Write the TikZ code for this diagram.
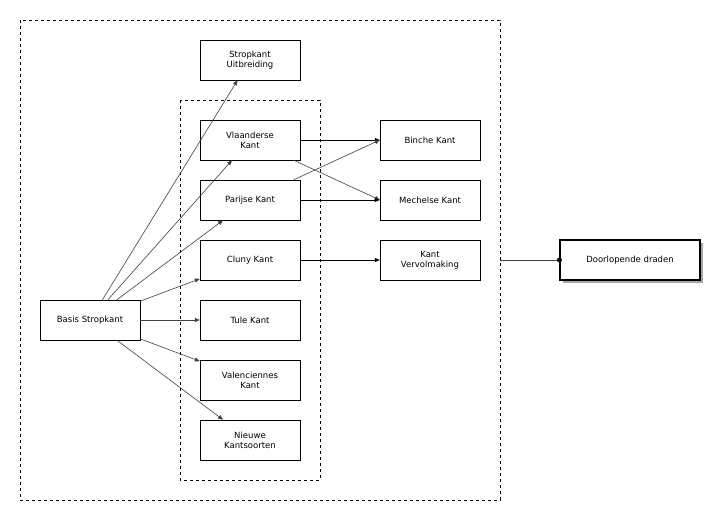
\documentclass[tikz,border=0pt]{standalone}
\usepackage{fontspec}
\setmainfont{DejaVu Sans}
\usepackage{tikz}
\usetikzlibrary{arrows.meta, positioning, shadows}

\begin{document}
\begin{tikzpicture}[
    x=1pt, y=-1pt,
    kant/.style={draw, minimum width=100pt, minimum height=40pt, align=center, font=\fontsize{8.5}{10}\selectfont},
    arrow/.style={-{Triangle[length=5pt,width=4pt]}, semithick},
    group/.style={draw, dashed, semithick}
]
    \useasboundingbox (0,0) rectangle (708,505);

    % Groups
    \draw[group] (20,20) rectangle (500,500);
    \draw[group] (180,100) rectangle (320,480);

    % Left
    \node[kant] (basis) at (90,320) {Basis Stropkant};

    % Middle column
    \node[kant] (uitbreiding) at (250,60) {Stropkant\\Uitbreiding};
    \node[kant] (vlaanderse) at (250,140) {Vlaanderse\\Kant};
    \node[kant] (parijse) at (250,200) {Parijse Kant};
    \node[kant] (cluny) at (250,260) {Cluny Kant};
    \node[kant] (tule) at (250,320) {Tule Kant};
    \node[kant] (valenciennes) at (250,380) {Valenciennes\\Kant};
    \node[kant] (nieuwe) at (250,440) {Nieuwe\\Kantsoorten};

    % Right column
    \node[kant] (binche) at (430,140) {Binche Kant};
    \node[kant] (mechelse) at (430,200) {Mechelse Kant};
    \node[kant] (vervolmaking) at (430,260) {Kant\\Vervolmaking};

    % Outside
    \node[kant, minimum width=140pt, very thick, fill=white, drop shadow={shadow xshift=3pt, shadow yshift=-3pt, fill=gray!70, opacity=1}] (draden) at (630,260) {Doorlopende draden};
    \coordinate (rand) at (500,260);

    % Connectors
    \foreach \t in {uitbreiding, vlaanderse, parijse, cluny, tule, valenciennes, nieuwe}
        \draw[arrow, draw=black!75] (basis) -- (\t);
    \draw[arrow] (vlaanderse.east) -- (binche.west);
    \draw[arrow, draw=black!75] (vlaanderse) -- (mechelse.west);
    \draw[arrow, draw=black!75] (parijse) -- (binche.west);
    \draw[arrow] (parijse.east) -- (mechelse.west);
    \draw[arrow] (cluny.east) -- (vervolmaking.west);
    \draw[semithick, draw=black!75] (rand) -- (draden.west);
    \fill (draden.west) circle (2.5pt);
\end{tikzpicture}
\end{document}
